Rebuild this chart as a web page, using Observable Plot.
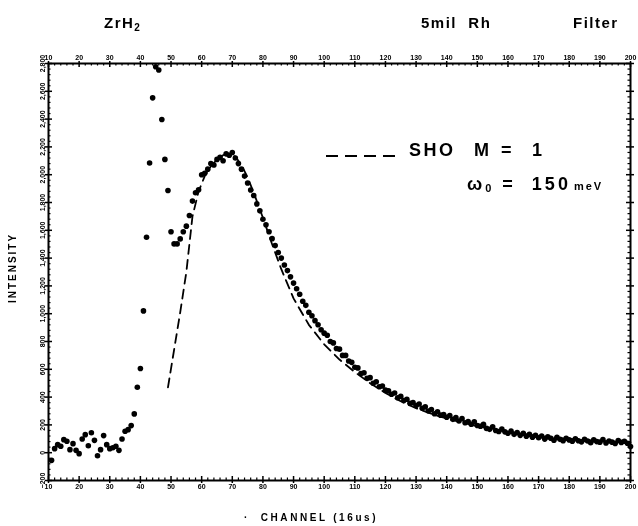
<!DOCTYPE html>
<html>
<head>
<meta charset="utf-8">
<script src="https://cdn.jsdelivr.net/npm/d3@7"></script>
<script src="https://cdn.jsdelivr.net/npm/@observablehq/plot@0.6"></script>
<style>
  html, body { margin: 0; padding: 0; background: #fff; }
  #wrap { position: relative; width: 638px; height: 526px; font-family: "Liberation Sans", Arial, sans-serif; font-weight: bold; color: #000; filter: grayscale(1); }
  #wrap svg.plot { position: absolute; left: 0; top: 0; }
  .ov { position: absolute; white-space: nowrap; }
</style>
</head>
<body>
<div id="wrap"></div>
<script>
// ---- data ----
const firstChannel = 11;
const intensity = [
  -55, 29, 58, 46, 94, 82, 22, 65, 17, -7,
  99, 130, 50, 144, 89, -22, 22, 123, 58, 29,
  36, 46, 17, 99, 154, 166, 195, 279, 471, 606,
  1020, 1550, 2084, 2553, 2777, 2753, 2397, 2110, 1886, 1590,
  1502, 1502, 1538, 1590, 1630, 1706, 1810, 1870, 1892, 2000,
  2010, 2040, 2080, 2070, 2110, 2125, 2100, 2150, 2140, 2160,
  2120, 2080, 2040, 1990, 1940, 1890, 1850, 1790, 1740, 1680,
  1640, 1590, 1540, 1490, 1440, 1400, 1350, 1310, 1265, 1220,
  1180, 1140, 1090, 1060, 1010, 985, 950, 920, 885, 860,
  845, 800, 790, 750, 745, 700, 700, 660, 650, 615,
  610, 570, 575, 535, 540, 500, 510, 475, 480, 450,
  445, 420, 430, 395, 405, 375, 385, 355, 360, 340,
  350, 320, 330, 300, 310, 280, 295, 270, 275, 255,
  268, 240, 252, 228, 245, 215, 225, 205, 222, 196,
  190, 205, 175, 168, 186, 160, 152, 170, 150, 140,
  155, 132, 145, 125, 140, 118, 132, 112, 126, 108,
  120, 98, 114, 104, 90, 110, 96, 86, 104, 92,
  82, 100, 86, 78, 96, 84, 72, 92, 80, 76,
  94, 70, 84, 76, 66, 88, 74, 82, 68, 45
];
const shoChannel = [49, 51, 53, 55, 57, 59, 61, 63, 65, 67, 69, 71, 73, 75, 77, 80, 83, 86, 90, 95, 100, 105, 110, 115, 120, 125, 130, 135, 140, 150, 160, 170, 180, 190, 200];
const shoValue   = [470, 740, 1010, 1300, 1700, 1880, 1990, 2060, 2110, 2140, 2150, 2130, 2070, 1980, 1870, 1690, 1500, 1320, 1110, 920, 780, 670, 580, 500, 430, 370, 320, 280, 245, 190, 150, 120, 100, 85, 75];
const xMajor = [10, 20, 30, 40, 50, 60, 70, 80, 90, 100, 110, 120, 130, 140, 150, 160, 170, 180, 190, 200];
const yMajor = [-200, 0, 200, 400, 600, 800, 1000, 1200, 1400, 1600, 1800, 2000, 2200, 2400, 2600, 2800];

// ---- build ----
const points = intensity.map((v, i) => ({ch: firstChannel + i, v}));
const sho = shoChannel.map((c, i) => ({ch: c, v: shoValue[i]}));
const xMinor = d3.range(10, 201, 2).filter(d => d % 10 !== 0);
const yMinor = d3.range(-200, 2801, 40).filter(d => d % 200 !== 0);

const W = 638, H = 526, mT = 63, mB = 46, mL = 48, mR = 8;
const fh = H - mT - mB, fw = W - mL - mR;
const tickFont = {fontSize: 7, fontWeight: "bold", fontFamily: "Liberation Sans, Arial, sans-serif", fill: "black"};

const chart = Plot.plot({
  width: W, height: H,
  marginTop: mT, marginBottom: mB, marginLeft: mL, marginRight: mR,
  style: {background: "white", color: "black"},
  x: {domain: [10, 200]},
  y: {domain: [-200, 2800]},
  marks: [
    // minor inward ticks
    Plot.ruleX(xMinor, {x: d => d, insetTop: fh - 2.5, stroke: "black", strokeWidth: 1.2}),
    Plot.ruleX(xMinor, {x: d => d, insetBottom: fh - 2.5, stroke: "black", strokeWidth: 1.2}),
    Plot.ruleY(yMinor, {y: d => d, insetRight: fw - 2.5, stroke: "black", strokeWidth: 1.2}),
    Plot.ruleY(yMinor, {y: d => d, insetLeft: fw - 2.5, stroke: "black", strokeWidth: 1.2}),
    // major inward ticks
    Plot.ruleX(xMajor, {x: d => d, insetTop: fh - 4, stroke: "black", strokeWidth: 1.5}),
    Plot.ruleX(xMajor, {x: d => d, insetBottom: fh - 4, stroke: "black", strokeWidth: 1.5}),
    Plot.ruleY(yMajor, {y: d => d, insetRight: fw - 4, stroke: "black", strokeWidth: 1.5}),
    Plot.ruleY(yMajor, {y: d => d, insetLeft: fw - 4, stroke: "black", strokeWidth: 1.5}),
    // axes
    Plot.axisX({anchor: "bottom", ticks: xMajor, tickSize: 3, tickPadding: 1, label: null, strokeWidth: 1.5, ...tickFont}),
    Plot.axisX({anchor: "top", ticks: xMajor, tickSize: 3, tickPadding: 1, label: null, strokeWidth: 1.5, ...tickFont}),
    Plot.axisY({anchor: "left", ticks: yMajor, tickSize: 3, tickPadding: 1, label: null, tickRotate: -90, strokeWidth: 1.5, ...tickFont}),
    Plot.axisY({anchor: "right", ticks: yMajor, tickSize: 3, text: null, label: null, strokeWidth: 1.5}),
    Plot.frame({stroke: "black", strokeWidth: 2}),
    // data
    Plot.line(sho, {x: "ch", y: "v", stroke: "black", strokeWidth: 1.8, strokeDasharray: "9,6"}),
    Plot.dot(points, {x: "ch", y: "v", r: 2.8, fill: "black", stroke: "none"})
  ]
});
chart.classList.add("plot");
const wrap = document.getElementById("wrap");
wrap.appendChild(chart);

function ov(html, css) {
  const d = document.createElement("div");
  d.className = "ov";
  d.innerHTML = html;
  Object.assign(d.style, css);
  wrap.appendChild(d);
  return d;
}
// titles
ov("ZrH<sub style='font-size:10px;vertical-align:-3px'>2</sub>", {left: "104px", top: "14px", fontSize: "15px", letterSpacing: "1.5px"});
ov("5mil&nbsp;&nbsp;Rh", {left: "421px", top: "14px", fontSize: "15px", letterSpacing: "1.5px"});
ov("Filter", {left: "573px", top: "14px", fontSize: "15px", letterSpacing: "1.5px"});
// legend
ov("<svg width='72' height='6' style='vertical-align:middle'><line x1='0' y1='3' x2='72' y2='3' stroke='black' stroke-width='1.8' stroke-dasharray='12,7'/></svg>", {left: "326px", top: "146px"});
ov("SHO", {left: "409px", top: "140px", fontSize: "18px", letterSpacing: "2.5px"});
ov("M&nbsp;=&nbsp;&nbsp;1", {left: "474px", top: "140px", fontSize: "18px", letterSpacing: "3.5px"});
ov("ω<sub style='font-size:11px;vertical-align:-2px'>0</sub>&nbsp;=&nbsp;&nbsp;150<span style='font-size:11px;letter-spacing:2px;margin-left:3px'>meV</span>", {left: "467px", top: "174px", fontSize: "18px", letterSpacing: "3px"});
// axis titles
ov("INTENSITY", {left: "12px", top: "268px", fontSize: "10px", letterSpacing: "2px", transform: "translate(-50%,-50%) rotate(-90deg)"});
ov("·&nbsp;&nbsp;CHANNEL&nbsp;(16us)", {left: "244px", top: "512px", fontSize: "10px", letterSpacing: "2.6px"});
</script>
</body>
</html>
